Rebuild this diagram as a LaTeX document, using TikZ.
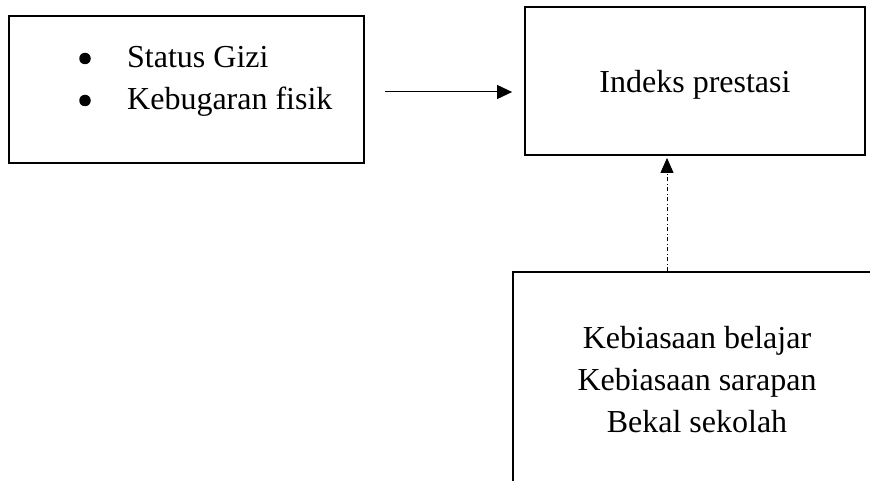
\documentclass[tikz,border=0pt]{standalone}
\usepackage{fontspec}
\setmainfont{Liberation Serif}
\usetikzlibrary{arrows.meta,positioning}

\begin{document}
\begin{tikzpicture}[x=1pt,y=-1pt,
  font=\fontsize{32}{42}\selectfont,
  box/.style={draw,line width=1.8pt,inner sep=0pt,align=center},
  dot/.style={circle,fill,inner sep=0pt,minimum size=11.5pt},
  arr/.style={line width=1pt,-{Triangle[length=15pt,width=14pt]}},
  dashdot/.style={line width=0.9pt,dash pattern=on 4pt off 2.5pt on 1pt off 2.5pt,
    -{Triangle[length=15pt,width=13pt]}}]
\useasboundingbox (0,0) rectangle (870,481);
\clip (0,0) rectangle (870,481);
\node[box,minimum width=355pt,minimum height=147pt] (gizi) at (186.5,89.5) {};
\node[anchor=base west,inner sep=0pt] (gizitxt) at (127,68)
  {\begin{tabular}[t]{@{}l@{}}Status Gizi\\Kebugaran fisik\end{tabular}};
\node[dot] (b1) at (85,58.5) {};
\node[dot] (b2) at (85,100.5) {};
\node[box,minimum width=340pt,minimum height=148pt,text depth=0pt] (ip) at (695,81) {Indeks prestasi};
\node[box,minimum width=368pt,minimum height=220pt] (bk) at (697,382)
  {\begin{tabular}{@{}c@{}}Kebiasaan belajar\\Kebiasaan sarapan\\Bekal sekolah\end{tabular}};
% panah
\draw[arr,shorten >=12pt] ([xshift=20pt,yshift=-2.5pt]gizi.east) -- ([yshift=-2.5pt]gizi.east -| ip.west);
\draw[dashdot,shorten >=2pt] ([xshift=-30pt]bk.north) -- ([xshift=-30pt]bk.north |- ip.south);
\end{tikzpicture}
\end{document}
